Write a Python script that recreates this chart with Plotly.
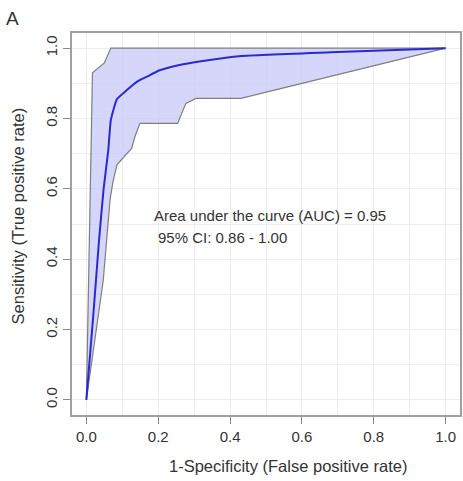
import plotly.graph_objects as go

# ROC mean curve
roc_fpr = [0.0, 0.02, 0.035, 0.048, 0.061, 0.068, 0.085, 0.112, 0.14, 0.167, 0.204, 0.259, 0.314, 0.424, 0.68, 1.0]
roc_tpr = [0.0, 0.25, 0.45, 0.60, 0.71, 0.795, 0.855, 0.88, 0.904, 0.918, 0.937, 0.952, 0.962, 0.977, 0.988, 1.0]

# Upper CI bound
up_fpr = [0.0, 0.008, 0.017, 0.05, 0.068, 1.0]
up_tpr = [0.0, 0.45, 0.93, 0.958, 1.0, 1.0]

# Lower CI bound
lo_fpr = [0.0, 0.047, 0.066, 0.074, 0.085, 0.098, 0.126, 0.135, 0.149, 0.254, 0.277, 0.305, 0.43, 1.0]
lo_tpr = [0.0, 0.34, 0.57, 0.62, 0.668, 0.682, 0.715, 0.748, 0.786, 0.786, 0.843, 0.857, 0.857, 1.0]

x_ticks = [0.0, 0.2, 0.4, 0.6, 0.8, 1.0]
tick_text = ["0.0", "0.2", "0.4", "0.6", "0.8", "1.0"]

x_title = "1-Specificity (False positive rate)"
y_title = "Sensitivity (True positive rate)"
auc_text = "Area under the curve (AUC) = 0.95"
ci_text = "95% CI: 0.86 - 1.00"

FONT = "Liberation Sans, Arial, sans-serif"
TXT = "#333333"

fig = go.Figure()

# shaded band polygon
fig.add_trace(go.Scatter(
    x=up_fpr + lo_fpr[::-1], y=up_tpr + lo_tpr[::-1],
    fill="toself", fillcolor="rgba(200,200,248,0.75)",
    line=dict(width=0), mode="lines", hoverinfo="skip", showlegend=False))
fig.add_trace(go.Scatter(x=up_fpr, y=up_tpr, mode="lines",
                         line=dict(color="#7f7f7f", width=1.2), showlegend=False))
fig.add_trace(go.Scatter(x=lo_fpr, y=lo_tpr, mode="lines",
                         line=dict(color="#7f7f7f", width=1.2), showlegend=False))
fig.add_trace(go.Scatter(x=roc_fpr, y=roc_tpr, mode="lines",
                         line=dict(color="#2a2ad0", width=2, shape="spline", smoothing=0.4),
                         showlegend=False))

axis_common = dict(
    tickvals=x_ticks, ticktext=tick_text,
    ticks="outside", ticklen=7, tickcolor="#888888", tickwidth=1,
    showline=True, mirror=True, linecolor="#a0a0a0", linewidth=1.5,
    showgrid=True, gridcolor="#ededed", gridwidth=1,
    minor=dict(dtick=0.1, showgrid=True, gridcolor="#ededed", gridwidth=1),
    zeroline=False,
    tickfont=dict(family=FONT, size=15, color=TXT),
)

fig.update_xaxes(range=[-0.04, 1.04], **axis_common)
fig.update_yaxes(range=[-0.043, 1.043], tickangle=-90, **axis_common)

fig.add_annotation(x=0.556, y=-0.1335, xref="paper", yref="paper", text=x_title,
                   showarrow=False, xanchor="center", yanchor="middle",
                   font=dict(family=FONT, size=16.5, color=TXT))
fig.add_annotation(x=-0.138, y=0.521, xref="paper", yref="paper", text=y_title,
                   showarrow=False, xanchor="center", yanchor="middle", textangle=-90,
                   font=dict(family=FONT, size=16.5, color=TXT))

fig.add_annotation(x=0.182, y=0.523, xref="x", yref="y", text=auc_text, showarrow=False,
                   xanchor="left", yanchor="middle",
                   font=dict(family=FONT, size=15, color=TXT))
fig.add_annotation(x=0.193, y=0.463, xref="x", yref="y", text=ci_text, showarrow=False,
                   xanchor="left", yanchor="middle",
                   font=dict(family=FONT, size=15, color=TXT))
fig.add_annotation(x=-0.154, y=1.039, xref="paper", yref="paper", text="A", showarrow=False,
                   xanchor="center", yanchor="middle",
                   font=dict(family=FONT, size=19, color=TXT))

fig.update_layout(
    width=463, height=481,
    margin=dict(l=72, r=1, t=33, b=66),
    paper_bgcolor="white", plot_bgcolor="white",
    showlegend=False,
)

fig.write_html("out.html")
